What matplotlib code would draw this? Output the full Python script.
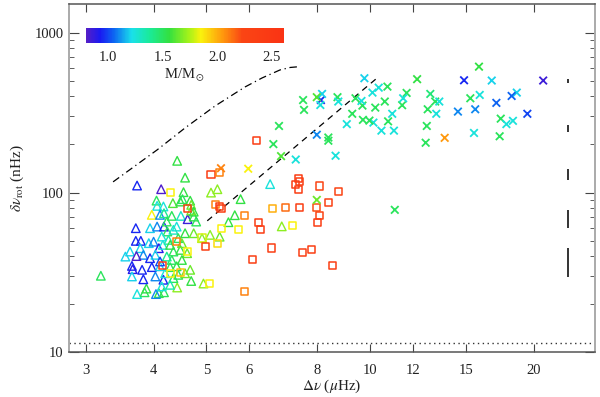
import numpy as np
import matplotlib
matplotlib.use("Agg")
import matplotlib.pyplot as plt
from matplotlib.colors import LinearSegmentedColormap, Normalize
from matplotlib.cm import ScalarMappable
from matplotlib.ticker import FixedLocator, NullFormatter, LogLocator

plt.rcParams['font.family'] = ['Liberation Serif', 'DejaVu Serif']
plt.rcParams['mathtext.fontset'] = 'stix'

# triangles: (delta nu [muHz], delta nu_rot [nHz], mass)
tri_dnu = [3.73, 4.13, 4.54, 4.42, 4.57, 5.10, 5.24, 5.78, 6.55, 5.64, 5.49, 5.29, 6.88,
           4.94, 3.20, 4.69, 4.42, 4.09, 3.73, 3.85, 3.88, 4.04, 4.18, 4.05, 4.06, 4.17,
           4.34, 4.48, 4.52, 4.67, 4.69, 3.97, 4.11, 4.18, 4.32, 4.49, 4.62, 4.74, 4.79,
           4.69, 3.71, 3.94, 4.06, 4.18, 4.24, 4.41, 4.57, 4.74, 4.91, 5.08, 3.71, 3.79,
           3.92, 4.00, 4.09, 4.16, 4.26, 4.35, 4.48, 4.61, 3.62, 3.78, 3.83, 3.94, 4.03,
           3.55, 3.72, 3.65, 3.66, 3.81, 3.97, 4.11, 4.29, 4.41, 4.67, 3.65, 3.83, 4.03,
           4.17, 4.35, 4.14, 4.23, 4.35, 4.44, 4.29, 4.51, 4.14, 4.32, 4.51, 4.23, 4.11,
           4.44, 4.57, 4.20, 4.29, 4.74]
tri_rot = [110.7, 105, 100.6, 158, 124, 100, 105, 91, 113, 72.2, 65.3, 53, 61.5,
           27, 30.2, 28, 25.5, 23.5, 23.2, 23.8, 25.1, 23.2, 23.8, 89.1, 82.6, 81.9,
           85.9, 87.9, 91, 89, 83.8, 72.6, 72.6, 74.3, 71.5, 71.5, 68.2, 70.8, 65.9,
           77.2, 59.9, 59.9, 61.3, 61.3, 57.1, 61.3, 55.7, 55.7, 51.9, 54.4, 49.9, 49.9,
           48.3, 49.3, 44.9, 47.1, 50.6, 42.8, 43.8, 41.8, 42.8, 44.9, 40.8, 38.9, 40.8,
           39.8, 40.1, 34.8, 33.2, 32.9, 34.2, 34.6, 34.2, 34.6, 32.9, 29.9, 28.7, 29.9,
           28.5, 29.2, 25.9, 65.9, 58.5, 51.9, 47.1, 48.3, 53.1, 37.9, 37.9, 39.8, 37.1,
           30.6, 31.3, 31.3, 26.5, 76]
tri_mass = [0.95, 0.82, 1.55, 1.55, 1.55, 1.7, 1.7, 1.55, 1.25, 1.55, 1.55, 1.65, 1.7,
            1.7, 1.5, 1.55, 1.7, 1.55, 1.25, 1.5, 1.55, 1.1, 1.5, 1.5, 1.25, 1.25,
            1.6, 1.55, 1.5, 1.55, 1.65, 1.85, 1.1, 1.4, 1.5, 1.3, 0.85, 1.55, 1.5,
            1.65, 0.95, 1.2, 1.1, 0.95, 1.5, 1.25, 1.55, 1.65, 1.7, 1.7, 0.95, 0.95,
            1.2, 1.1, 0.9, 1.25, 1.35, 1.5, 1.55, 1.65, 1.2, 1.2, 1.1, 0.95, 1.2,
            1.2, 0.82, 0.95, 0.9, 0.95, 0.95, 1.2, 1.5, 1.55, 1.65, 1.2, 0.95, 1.1,
            0.95, 1.5, 1.25, 1.5, 1.3, 1.5, 1.55, 1.65, 1.25, 1.5, 1.55, 1.4, 1.0,
            1.5, 1.65, 1.25, 1.35, 1.55]

# squares
sq_dnu = [7.38, 7.28, 7.43, 7.38, 8.06, 8.74, 8.37, 6.99, 7.42, 7.98, 8.08, 8.00, 7.20,
          5.10, 5.28, 6.62, 4.29, 4.61, 5.19, 5.28, 5.32, 5.87, 6.23, 6.28, 5.73, 5.33,
          4.91, 5.25, 4.98, 4.40, 4.61, 6.59, 7.50, 7.80, 6.09, 8.52, 4.16, 4.29, 4.48,
          5.07, 5.87, 6.19]
sq_rot = [123, 113, 117, 105, 110, 101, 87, 80.5, 80.5, 80.5, 71.8, 65.3, 62,
          130, 133, 80, 100.6, 80, 83.8, 82, 80, 72.2, 65.3, 59, 59, 60,
          52, 48.3, 46, 49.2, 42.8, 45, 42.4, 44.3, 38.1, 35.2, 35.2, 31.3, 31.5,
          27, 24, 213]
sq_mass = [2.4, 2.4, 2.35, 2.4, 2.25, 2.25, 2.3, 2.15, 2.35, 2.2, 2.25, 2.4, 1.85,
           2.4, 2.1, 2.0, 1.85, 2.35, 2.1, 2.35, 2.4, 2.1, 2.4, 2.4, 1.85, 1.85,
           1.8, 1.9, 2.35, 2.1, 1.85, 2.35, 2.35, 2.35, 2.35, 2.35, 2.35, 1.85, 1.95,
           1.85, 2.1, 2.4]

# crosses
x_dnu = [15.85, 12.2, 14.88, 16.73, 20.8, 9.76, 10.37, 10.76, 10.1, 11.67, 12.9, 15.9,
         18.6, 18.2, 17.06, 19.45, 15.28, 13.17, 13.4, 12.76, 13.23, 14.5, 15.6, 17.38,
         17.8, 18.3, 12.71, 12.65, 13.71, 15.52, 17.3, 11.1, 11.06, 10.49, 10.79, 10.14,
         9.97, 9.70, 9.06, 9.27, 9.68, 9.64, 9.4, 10.22, 10.64, 11.45, 11.5, 10.98,
         8.71, 8.74, 8.12, 8.16, 7.98, 8.1, 7.53, 7.56, 7.98, 8.38, 8.38, 8.64, 7.3,
         6.86, 7.98, 6.8, 6.64, 5.32, 5.97]
x_rot = [613, 512, 504, 502, 502, 519, 453, 460, 422, 420, 414, 408,
         422, 402, 364, 311, 389, 371, 371, 332, 311, 321, 332, 290,
         268, 281, 261, 205, 220, 236, 225, 78, 244, 244, 279, 274,
         282, 285, 268, 311, 350, 374, 389, 340, 371, 352, 389, 311,
         395, 371, 379, 414, 395, 353, 379, 329, 230, 221, 211, 170, 161,
         169, 90, 261, 201, 142, 141]
x_mass = [1.55, 1.55, 0.95, 1.2, 0.85, 1.2, 1.25, 1.5, 1.25, 1.5, 1.45, 1.25,
          1.2, 1.05, 1.05, 1.0, 1.5, 1.5, 1.25, 1.5, 1.25, 1.1, 1.1, 1.5,
          1.25, 1.25, 1.5, 1.5, 2.05, 1.25, 1.5, 1.5, 1.25, 1.25, 1.5, 1.25,
          1.5, 1.5, 1.25, 1.5, 1.5, 1.25, 1.5, 1.5, 1.5, 1.5, 1.25, 1.25,
          1.5, 1.25, 0.95, 1.2, 1.6, 1.25, 1.5, 1.5, 1.1, 1.5, 1.5, 1.25, 1.25,
          1.6, 1.65, 1.5, 1.5, 2.1, 1.85]

# dash-dot curve
curve_dnu = [3.37, 4.06, 4.57, 5.19, 5.89, 6.33, 6.83, 7.13, 7.41]
curve_rot = [116.7, 184.9, 253.7, 348.3, 457.7, 521, 584.8, 606, 613]

# dashed line
dash_dnu = [5.02, 10.35]
dash_rot = [66.6, 528]

# typical error bars on the right
err_dnu = 23.1
err_lo = [486, 239, 120, 60, 29.7]
err_hi = [514, 265, 141, 78, 45]

floor_rot = 11.4

xticks = [3, 4, 5, 6, 8, 10, 12, 15, 20]
cb_ticks = [1.0, 1.5, 2.0, 2.5]

cmap = LinearSegmentedColormap.from_list('idl_rainbow', [
    (0.00, (0.33, 0.12, 0.78)),
    (0.07, (0.10, 0.10, 0.95)),
    (0.14, (0.05, 0.40, 0.95)),
    (0.23, (0.10, 0.88, 0.92)),
    (0.32, (0.10, 0.92, 0.60)),
    (0.42, (0.20, 0.88, 0.25)),
    (0.52, (0.65, 0.95, 0.10)),
    (0.58, (0.98, 0.95, 0.05)),
    (0.69, (1.00, 0.60, 0.05)),
    (0.79, (0.98, 0.27, 0.08)),
    (1.00, (0.98, 0.20, 0.08)),
])
norm = Normalize(0.8, 2.61)

fig = plt.figure(figsize=(6.0, 3.97), dpi=100)
ax = fig.add_axes([0.1155, 0.1121, 0.8762, 0.8778])

ax.scatter(tri_dnu, tri_rot, marker='^', s=38, facecolors='none',
           edgecolors=cmap(norm(tri_mass)), linewidths=1.0, zorder=3)
ax.scatter(sq_dnu, sq_rot, marker='s', s=26, facecolors='none',
           edgecolors=cmap(norm(sq_mass)), linewidths=1.1, zorder=3)
ax.scatter(x_dnu, x_rot, marker='x', s=30, c=cmap(norm(x_mass)),
           linewidths=1.3, zorder=3)

ax.plot(curve_dnu, curve_rot, color='black', lw=0.9, ls=(0, (6, 3, 1, 3)))
ax.plot(dash_dnu, dash_rot, color='black', lw=0.9, ls=(0, (5, 4)))
ax.axhline(floor_rot, color='#333333', lw=1.0, ls=(0, (1, 2.5)))
ax.vlines([err_dnu] * len(err_lo), err_lo, err_hi, color='#333333', lw=1.4)

ax.set_xscale('log')
ax.set_yscale('log')
ax.set_xlim(2.80, 25.9)
ax.set_ylim(10, 1511)

ax.xaxis.set_major_locator(FixedLocator(xticks))
ax.set_xticklabels([str(t) for t in xticks])
ax.xaxis.set_minor_locator(FixedLocator([]))
ax.xaxis.set_minor_formatter(NullFormatter())
ax.yaxis.set_major_locator(FixedLocator([10, 100, 1000]))
ax.set_yticklabels(['10', '100', '1000'])
ax.yaxis.set_minor_locator(LogLocator(base=10, subs=np.arange(2, 10)))
ax.yaxis.set_minor_formatter(NullFormatter())

ax.tick_params(which='both', direction='in', top=True, right=True, color='#444444',
               labelsize=10.5, labelcolor='#222222')
ax.tick_params(axis='x', which='major', length=6, pad=8)
ax.tick_params(axis='y', which='major', length=7.5, pad=4)
ax.tick_params(axis='y', which='minor', length=3.5)

for side in ['left', 'right']:
    ax.spines[side].set_color('#aaaaaa')
    ax.spines[side].set_linewidth(1.4)
for side in ['top', 'bottom']:
    ax.spines[side].set_color('#555555')
    ax.spines[side].set_linewidth(1.1)

ax.set_xlabel(r'$\Delta\nu$ ($\mu$Hz)', fontsize=11, color='#222222', labelpad=1)
ax.set_ylabel(r'$\delta\nu_{\rm rot}$ (nHz)', fontsize=11, color='#222222', labelpad=6)

# colour bar at top left
cax = fig.add_axes([86 / 600, (397 - 43) / 397, 198 / 600, 15 / 397])
sm = ScalarMappable(norm=norm, cmap=cmap)
cb = fig.colorbar(sm, cax=cax, orientation='horizontal')
cb.outline.set_visible(False)
cb.set_ticks(cb_ticks)
cb.set_ticklabels(['%.1f' % t for t in cb_ticks])
cax.tick_params(length=0, pad=6, labelsize=10.5, labelcolor='#222222')
cb.set_label(r'M/M$_\odot$', fontsize=10.5, color='#222222', labelpad=2)

fig.savefig('out.png', dpi=100)
